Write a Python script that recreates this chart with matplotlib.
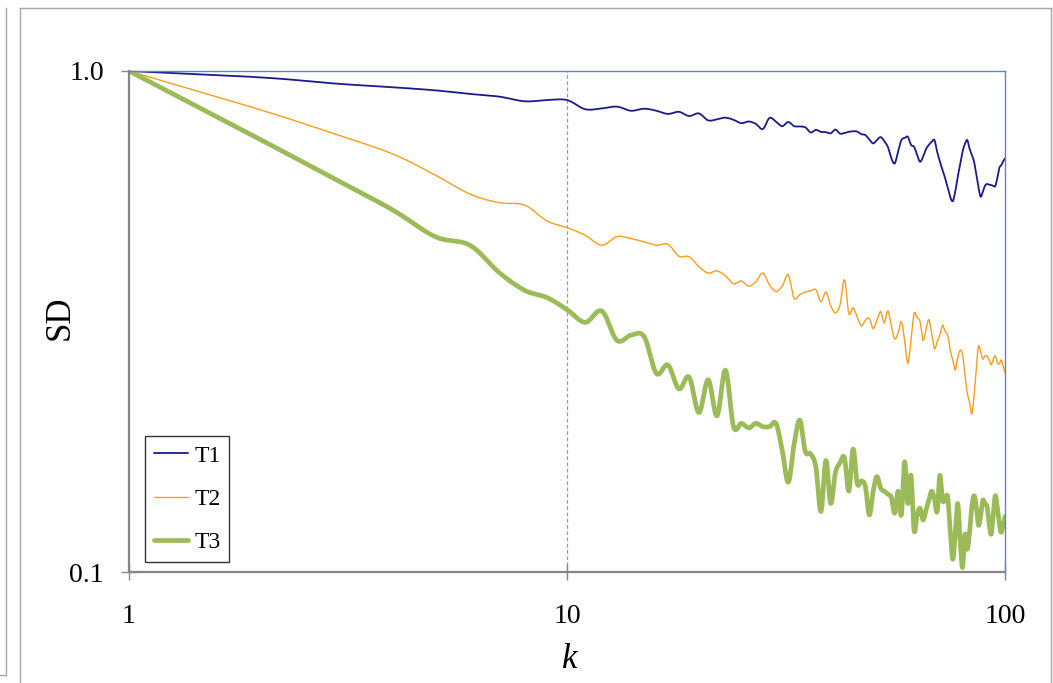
import numpy as np
import matplotlib
matplotlib.use("Agg")
import matplotlib.pyplot as plt
from matplotlib.lines import Line2D

k = list(range(1, 101))

t1 = [1.000, 0.971, 0.943, 0.928, 0.915, 0.900, 0.889, 0.870, 0.875, 0.875,
      0.839, 0.842, 0.849, 0.833, 0.841, 0.833, 0.821, 0.829, 0.813, 0.823,
      0.797, 0.801, 0.807, 0.799, 0.787, 0.793, 0.784, 0.766, 0.806, 0.792,
      0.776, 0.791, 0.776, 0.775, 0.772, 0.754, 0.763, 0.756, 0.755, 0.751,
      0.764, 0.750, 0.752, 0.756, 0.758, 0.757, 0.748, 0.745, 0.730, 0.717,
      0.728, 0.738, 0.725, 0.706, 0.670, 0.654, 0.690, 0.728, 0.735, 0.739,
      0.712, 0.706, 0.680, 0.659, 0.674, 0.698, 0.712, 0.722, 0.728, 0.690,
      0.660, 0.635, 0.611, 0.585, 0.560, 0.550, 0.575, 0.615, 0.650, 0.690,
      0.715, 0.728, 0.700, 0.680, 0.659, 0.620, 0.585, 0.561, 0.575, 0.590,
      0.595, 0.593, 0.592, 0.590, 0.589, 0.610, 0.640, 0.648, 0.660, 0.669]

t2 = [1.000, 0.836, 0.745, 0.683, 0.620, 0.568, 0.546, 0.540, 0.502, 0.487,
      0.470, 0.449, 0.467, 0.463, 0.456, 0.449, 0.451, 0.427, 0.426, 0.407,
      0.395, 0.399, 0.390, 0.376, 0.381, 0.372, 0.380, 0.395, 0.374, 0.363,
      0.372, 0.392, 0.352, 0.358, 0.362, 0.364, 0.366, 0.346, 0.362, 0.340,
      0.329, 0.341, 0.383, 0.328, 0.337, 0.322, 0.310, 0.318, 0.321, 0.306,
      0.318, 0.331, 0.314, 0.332, 0.310, 0.292, 0.300, 0.316, 0.290, 0.261,
      0.290, 0.328, 0.322, 0.316, 0.290, 0.305, 0.319, 0.300, 0.279, 0.288,
      0.297, 0.311, 0.302, 0.297, 0.277, 0.265, 0.253, 0.268, 0.277, 0.272,
      0.248, 0.228, 0.218, 0.207, 0.225, 0.255, 0.282, 0.275, 0.266, 0.270,
      0.270, 0.265, 0.259, 0.266, 0.270, 0.262, 0.260, 0.265, 0.258, 0.250]

t3 = [1.000, 0.729, 0.604, 0.528, 0.467, 0.449, 0.396, 0.365, 0.353, 0.334,
      0.315, 0.332, 0.290, 0.297, 0.295, 0.249, 0.259, 0.232, 0.245, 0.208,
      0.242, 0.205, 0.253, 0.195, 0.198, 0.194, 0.198, 0.195, 0.195, 0.198,
      0.175, 0.151, 0.180, 0.201, 0.174, 0.172, 0.162, 0.132, 0.167, 0.137,
      0.158, 0.165, 0.169, 0.145, 0.176, 0.150, 0.152, 0.148, 0.130, 0.145,
      0.155, 0.147, 0.145, 0.143, 0.141, 0.131, 0.145, 0.130, 0.166, 0.137,
      0.156, 0.121, 0.130, 0.134, 0.127, 0.133, 0.139, 0.145, 0.140, 0.132,
      0.156, 0.139, 0.140, 0.141, 0.120, 0.106, 0.120, 0.137, 0.115, 0.102,
      0.119, 0.111, 0.120, 0.135, 0.142, 0.135, 0.124, 0.130, 0.139, 0.137,
      0.135, 0.125, 0.119, 0.130, 0.142, 0.135, 0.125, 0.120, 0.124, 0.129]

series_names = ["T1", "T2", "T3"]
x_ticks = [1, 10, 100]
x_ticklabels = ["1", "10", "100"]
y_ticks = [0.1, 1.0]
y_ticklabels = ["0.1", "1.0"]


def smooth(xs, ys, n=10):
    """Excel-like smoothed line (uniform Catmull-Rom Bezier) in log space."""
    lx = np.log10(np.asarray(xs, float))
    ly = np.log10(np.asarray(ys, float))
    P = np.column_stack([lx, ly])
    P = np.vstack([P[0], P, P[-1]])
    out = []
    t = np.linspace(0, 1, n, endpoint=False)[:, None]
    for i in range(1, len(P) - 2):
        p0, p1, p2, p3 = P[i - 1], P[i], P[i + 1], P[i + 2]
        b1 = p1 + (p2 - p0) / 6.0
        b2 = p2 - (p3 - p1) / 6.0
        seg = ((1 - t) ** 3) * p1 + 3 * ((1 - t) ** 2) * t * b1 + 3 * (1 - t) * t ** 2 * b2 + t ** 3 * p2
        out.append(seg)
    out.append(P[-2][None, :])
    out = np.vstack(out)
    return 10 ** out[:, 0], 10 ** out[:, 1]


plt.rcParams["font.family"] = ["Liberation Serif", "DejaVu Serif"]

fig = plt.figure(figsize=(10.53, 6.83), dpi=100)
W, H = 1053, 683
ax = fig.add_axes([129 / W, (H - 572) / H, (1005 - 129) / W, (572 - 71) / H])

styles = [
    dict(color="#1a1a8c", lw=1.3),
    dict(color="#ff9c1a", lw=1.0),
    dict(color="#9bbb59", lw=3.4),
]
for name, ys, st in zip(series_names, [t1, t2, t3], styles):
    sx, sy = smooth(k, ys)
    ax.plot(sx, sy, label=name, solid_capstyle="round", solid_joinstyle="round", **st)

ax.set_xscale("log")
ax.set_yscale("log")
ax.set_xlim(1, 100)
ax.set_ylim(0.1, 1.0)

ax.set_xticks(x_ticks)
ax.set_xticklabels(x_ticklabels)
ax.set_yticks(y_ticks)
ax.set_yticklabels(y_ticklabels)
ax.minorticks_off()

ax.tick_params(axis="both", direction="inout", length=12, width=1.0, color="#868686",
               labelsize=20)
ax.tick_params(axis="x", pad=17)
ax.tick_params(axis="y", pad=12)

# vertical grid at 10
ax.axvline(10, color="#9a9a9a", lw=0.9, ls=(0, (3, 2)), zorder=0)

for s in ["left", "bottom"]:
    ax.spines[s].set_color("#868686")
    ax.spines[s].set_linewidth(1.6)
for s in ["top", "right"]:
    ax.spines[s].set_color("#5b86c4")
    ax.spines[s].set_linewidth(1.0)
    ax.spines[s].set_linestyle((0, (2, 1)))

fig.text(60 / W, 1 - 318 / H, "SD", fontsize=25, rotation=90, ha="center", va="center")
fig.text(570 / W, 1 - 660 / H, "k", fontsize=25, style="italic", ha="center", va="center")

leg = ax.legend(loc="lower left", bbox_to_anchor=(145 / W, (H - 562) / H),
                bbox_transform=fig.transFigure, borderaxespad=0,
                fontsize=17, frameon=True, fancybox=False, shadow=False,
                handlelength=1.45, handletextpad=0.25, labelspacing=0.92,
                borderpad=0.38)
leg.get_frame().set_edgecolor("black")
leg.get_frame().set_linewidth(1.0)

# chart borders
fig.add_artist(Line2D([20 / W, 20 / W], [0, 1 - 8 / H], transform=fig.transFigure, color="#a6a6a6", lw=1.0))
fig.add_artist(Line2D([20 / W, 1051 / W], [1 - 8 / H, 1 - 8 / H], transform=fig.transFigure, color="#a6a6a6", lw=1.0))
fig.add_artist(Line2D([1051 / W, 1051 / W], [0, 1 - 8 / H], transform=fig.transFigure, color="#a6a6a6", lw=1.0))
fig.add_artist(Line2D([6 / W, 6 / W], [8 / H, 1 - 8 / H], transform=fig.transFigure, color="#a6a6a6", lw=1.0))
fig.add_artist(Line2D([0, 6 / W], [8 / H, 8 / H], transform=fig.transFigure, color="#a6a6a6", lw=1.0))

fig.savefig("out.png", dpi=100)
